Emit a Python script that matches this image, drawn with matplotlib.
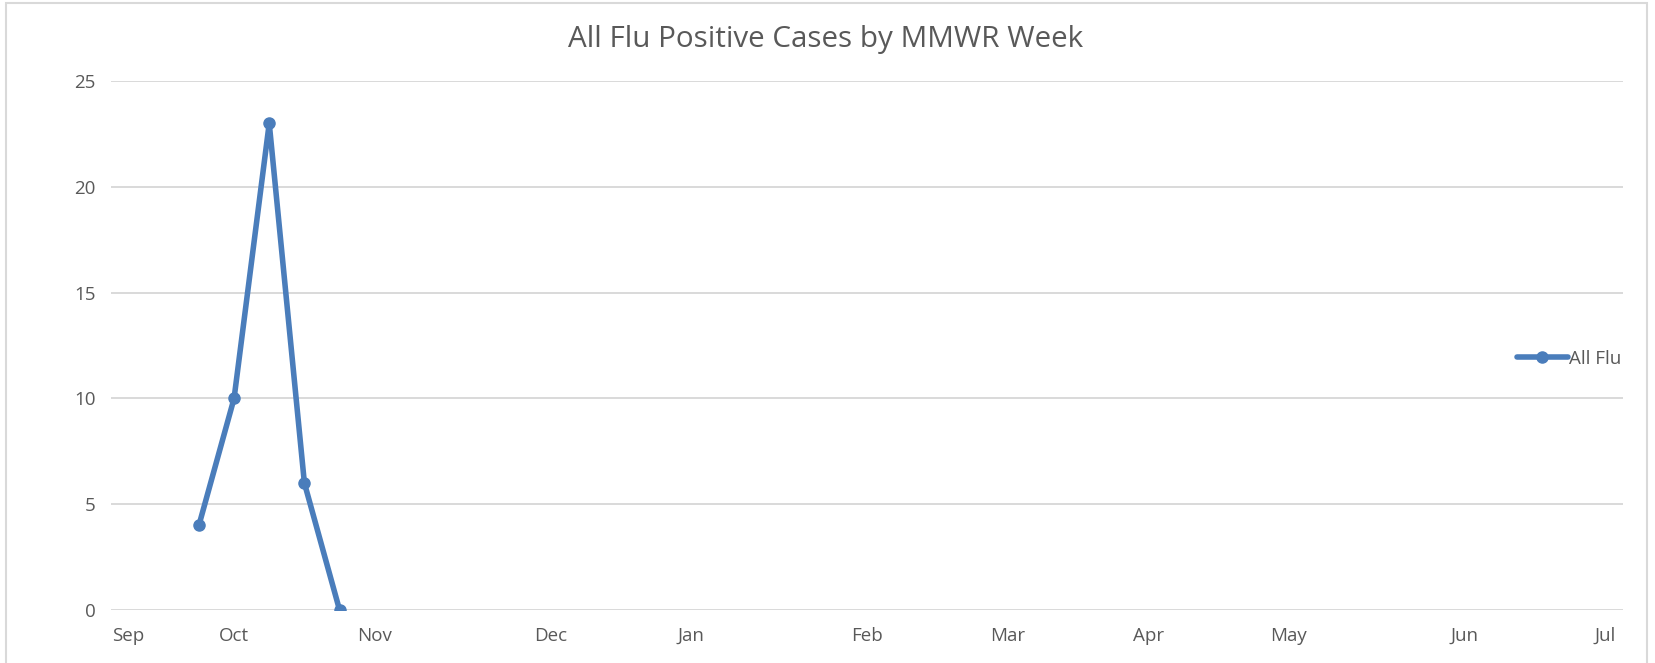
import matplotlib
matplotlib.use("Agg")
import matplotlib.pyplot as plt
from matplotlib.patches import Rectangle

# Data
week_index = [2, 3, 4, 5, 6]          # season week index (0 = first week of Sep)
all_flu = [4, 10, 23, 6, 0]
month_labels = ['Sep', 'Oct', 'Nov', 'Dec', 'Jan', 'Feb', 'Mar', 'Apr', 'May', 'Jun', 'Jul']
month_week = [0, 3, 7, 12, 16, 21, 25, 29, 33, 38, 42]
y_ticks = [0, 5, 10, 15, 20, 25]

plt.rcParams['font.family'] = ['Open Sans', 'DejaVu Sans']
text_color = '#595959'
grid_color = '#d9d9d9'
line_color = '#4a7dbb'

fig = plt.figure(figsize=(16.55, 6.63), dpi=100)
ax = fig.add_axes([111/1655, 1-610/663, (1623-111)/1655, (610-81)/663])

for y in y_ticks:
    ax.axhline(y, color=grid_color, lw=1.4, zorder=1)

ax.plot(week_index, all_flu, color=line_color, lw=4.0, marker='o', ms=8,
        label='All Flu', zorder=3, solid_capstyle='round')

ax.set_xlim(-0.5, 42.5)
ax.set_ylim(0, 25)
ax.set_yticks(y_ticks)
ax.set_xticks(month_week)
ax.set_xticklabels(month_labels)
for s in ax.spines.values():
    s.set_visible(False)
ax.tick_params(axis='both', length=0, colors=text_color, labelsize=13.5)
ax.tick_params(axis='y', pad=11)
ax.tick_params(axis='x', pad=12)
ax.set_facecolor('none')

fig.text(826/1655, 1-40/663, 'All Flu Positive Cases by MMWR Week',
         ha='center', va='center', fontsize=21.3, color=text_color)

fig.legend(loc='center left', bbox_to_anchor=(1517/1655, 1-359/663), frameon=False,
           fontsize=13.5, labelcolor=text_color, handlelength=2.7, handletextpad=0.05,
           borderpad=0, borderaxespad=0)

fig.patches.append(Rectangle((6/1655, -0.05), (1647-6)/1655, 1.05 - 3/663,
                             transform=fig.transFigure, fill=False,
                             edgecolor='#d9d9d9', lw=1.5))

fig.savefig('out.png', dpi=100)
